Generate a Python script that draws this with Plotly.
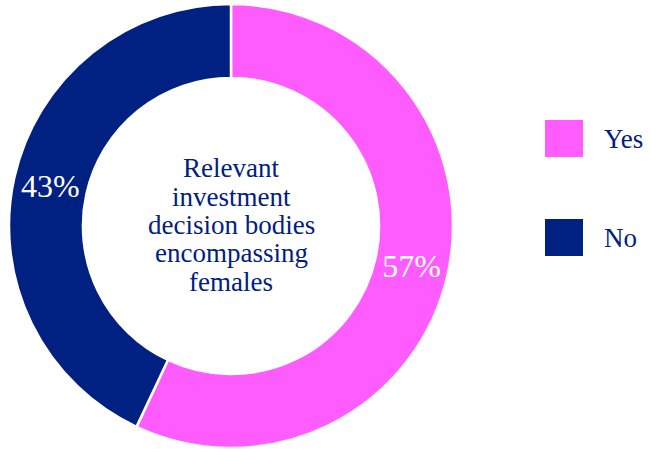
import plotly.graph_objects as go

labels = ["Yes", "No"]
values = [57, 43]
colors = ["#FF5CFF", "#002082"]
center_lines = ["Relevant", "investment", "decision bodies", "encompassing", "females"]

W, H = 651, 449
FONT = "Liberation Serif, Times New Roman, serif"
NAVY = "#002082"

fig = go.Figure()
fig.add_trace(go.Pie(
    labels=labels, values=values, hole=0.667, sort=False, direction="clockwise",
    rotation=0, marker=dict(colors=colors, line=dict(color="white", width=2.5)),
    textinfo="percent", texttemplate="%{percent:.0%}", textposition="inside",
    insidetextorientation="horizontal",
    textfont=dict(family=FONT, size=32, color="white"),
    domain=dict(x=[9 / W, 453 / W], y=[1 - 448 / H, 1 - 4 / H]),
    showlegend=False, hoverinfo="label+percent",
))

# center text, one annotation per line for tight leading
cx = 231 / W
cy_px = 225
n = len(center_lines)
for i, line in enumerate(center_lines):
    ypx = cy_px + (i - (n - 1) / 2) * 28.5
    fig.add_annotation(x=cx, y=1 - ypx / H, xref="paper", yref="paper",
                       text=line, showarrow=False, xanchor="center", yanchor="middle",
                       font=dict(family=FONT, size=27, color=NAVY))

# custom legend
leg_top = [120, 219]
for lab, col, top in zip(labels, colors, leg_top):
    fig.add_shape(type="rect", xref="paper", yref="paper",
                  x0=545 / W, x1=583 / W, y0=1 - (top + 37) / H, y1=1 - top / H,
                  fillcolor=col, line=dict(width=0))
    fig.add_annotation(x=602 / W, y=1 - (top + 19) / H, xref="paper", yref="paper",
                       text=lab, showarrow=False, xanchor="left", yanchor="middle",
                       font=dict(family=FONT, size=27, color=NAVY))

fig.update_layout(width=W, height=H, margin=dict(l=0, r=0, t=0, b=0),
                  paper_bgcolor="white", plot_bgcolor="white")
fig.write_html("out.html", config={"displayModeBar": False},
               post_script="document.body.style.margin='0';document.body.style.overflow='hidden';")
